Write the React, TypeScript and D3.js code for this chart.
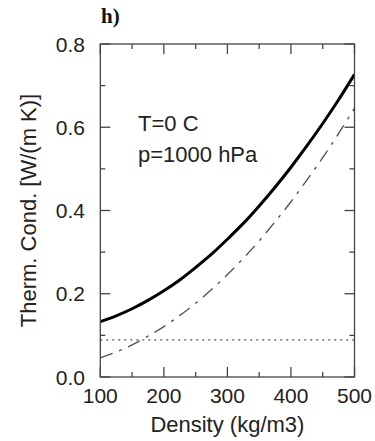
import React from "react";
import * as d3 from "d3";

const densities = [100, 125, 150, 175, 200, 225, 250, 275, 300, 325, 350, 375, 400, 425, 450, 475, 500];
const solidValues = [0.133, 0.147, 0.164, 0.184, 0.207, 0.233, 0.263, 0.295, 0.331, 0.369, 0.411, 0.456, 0.504, 0.555, 0.609, 0.666, 0.727];
const dashedValues = [0.046, 0.060, 0.077, 0.098, 0.121, 0.148, 0.177, 0.210, 0.246, 0.285, 0.327, 0.373, 0.421, 0.473, 0.527, 0.585, 0.646];
const dottedValue = 0.089;
const xMajorTicks = [100, 200, 300, 400, 500];
const xMinorTicks = [150, 250, 350, 450];
const yMajorTicks = [0, 0.2, 0.4, 0.6, 0.8];
const yMinorTicks = [0.1, 0.3, 0.5, 0.7];
const panelLabel = "h)";
const xLabel = "Density (kg/m3)";
const yLabel = "Therm. Cond. [W/(m K)]";
const annotations = ["T=0 C", "p=1000 hPa"];

const W = 375, H = 441;
const L = 100.3, R = 354.5, T = 44, B = 377;

export default function App() {
  const x = d3.scaleLinear().domain([100, 500]).range([L, R]);
  const y = d3.scaleLinear().domain([0, 0.8]).range([B, T]);
  const line = d3.line<[number, number]>().x(d => x(d[0])).y(d => y(d[1])).curve(d3.curveCatmullRom);
  const solid = line(densities.map((d, i) => [d, solidValues[i]]))!;
  const dashed = line(densities.map((d, i) => [d, dashedValues[i]]))!;
  const dotted = line([[100, dottedValue], [500, dottedValue]])!;
  const axisColor = "#444";
  const font = "'Liberation Sans', Arial, sans-serif";
  const major = 10, minor = 5;
  return (
    <svg width={W} height={H} style={{ position: "absolute", left: 0, top: 0 }} fontFamily={font}>
      <rect x={0} y={0} width={W} height={H} fill="#fff" />
      <defs>
        <clipPath id="clip"><rect x={L} y={T} width={R - L} height={B - T} /></clipPath>
      </defs>
      <g clipPath="url(#clip)">
        <path d={dotted} fill="none" stroke="#555" strokeWidth={1.3} strokeDasharray="2,4" />
        <path d={dashed} fill="none" stroke="#555" strokeWidth={1.4} strokeDasharray="13,7,3,7" />
        <path d={solid} fill="none" stroke="#000" strokeWidth={3} />
      </g>
      <rect x={L} y={T} width={R - L} height={B - T} fill="none" stroke={axisColor} strokeWidth={1.3} />
      {xMajorTicks.map(v => (
        <g key={"xM" + v}>
          <line x1={x(v)} x2={x(v)} y1={B} y2={B - major} stroke={axisColor} strokeWidth={1.3} />
          <line x1={x(v)} x2={x(v)} y1={T} y2={T + major} stroke={axisColor} strokeWidth={1.3} />
          <text x={x(v)} y={403} textAnchor="middle" fontSize={21} fill="#222">{v}</text>
        </g>
      ))}
      {xMinorTicks.map(v => (
        <g key={"xm" + v}>
          <line x1={x(v)} x2={x(v)} y1={B} y2={B - minor} stroke={axisColor} strokeWidth={1.3} />
          <line x1={x(v)} x2={x(v)} y1={T} y2={T + minor} stroke={axisColor} strokeWidth={1.3} />
        </g>
      ))}
      {yMajorTicks.map(v => (
        <g key={"yM" + v}>
          <line x1={L} x2={L + major} y1={y(v)} y2={y(v)} stroke={axisColor} strokeWidth={1.3} />
          <line x1={R} x2={R - major} y1={y(v)} y2={y(v)} stroke={axisColor} strokeWidth={1.3} />
          <text x={85} y={y(v) + 7.5} textAnchor="end" fontSize={21} fill="#222">{v.toFixed(1)}</text>
        </g>
      ))}
      {yMinorTicks.map(v => (
        <g key={"ym" + v}>
          <line x1={L} x2={L + minor} y1={y(v)} y2={y(v)} stroke={axisColor} strokeWidth={1.3} />
          <line x1={R} x2={R - minor} y1={y(v)} y2={y(v)} stroke={axisColor} strokeWidth={1.3} />
        </g>
      ))}
      <text x={(L + R) / 2} y={432} textAnchor="middle" fontSize={22} fill="#222">{xLabel}</text>
      <text transform={`translate(36,${(T + B) / 2}) rotate(-90)`} textAnchor="middle" fontSize={22} fill="#222">{yLabel}</text>
      <text x={138} y={131} fontSize={22} fill="#222">{annotations[0]}</text>
      <text x={138} y={162} fontSize={22} fill="#222">{annotations[1]}</text>
      <text x={101} y={23} fontSize={21} fontWeight="bold" fontFamily="'Liberation Serif', 'Times New Roman', serif" fill="#111">{panelLabel}</text>
    </svg>
  );
}
